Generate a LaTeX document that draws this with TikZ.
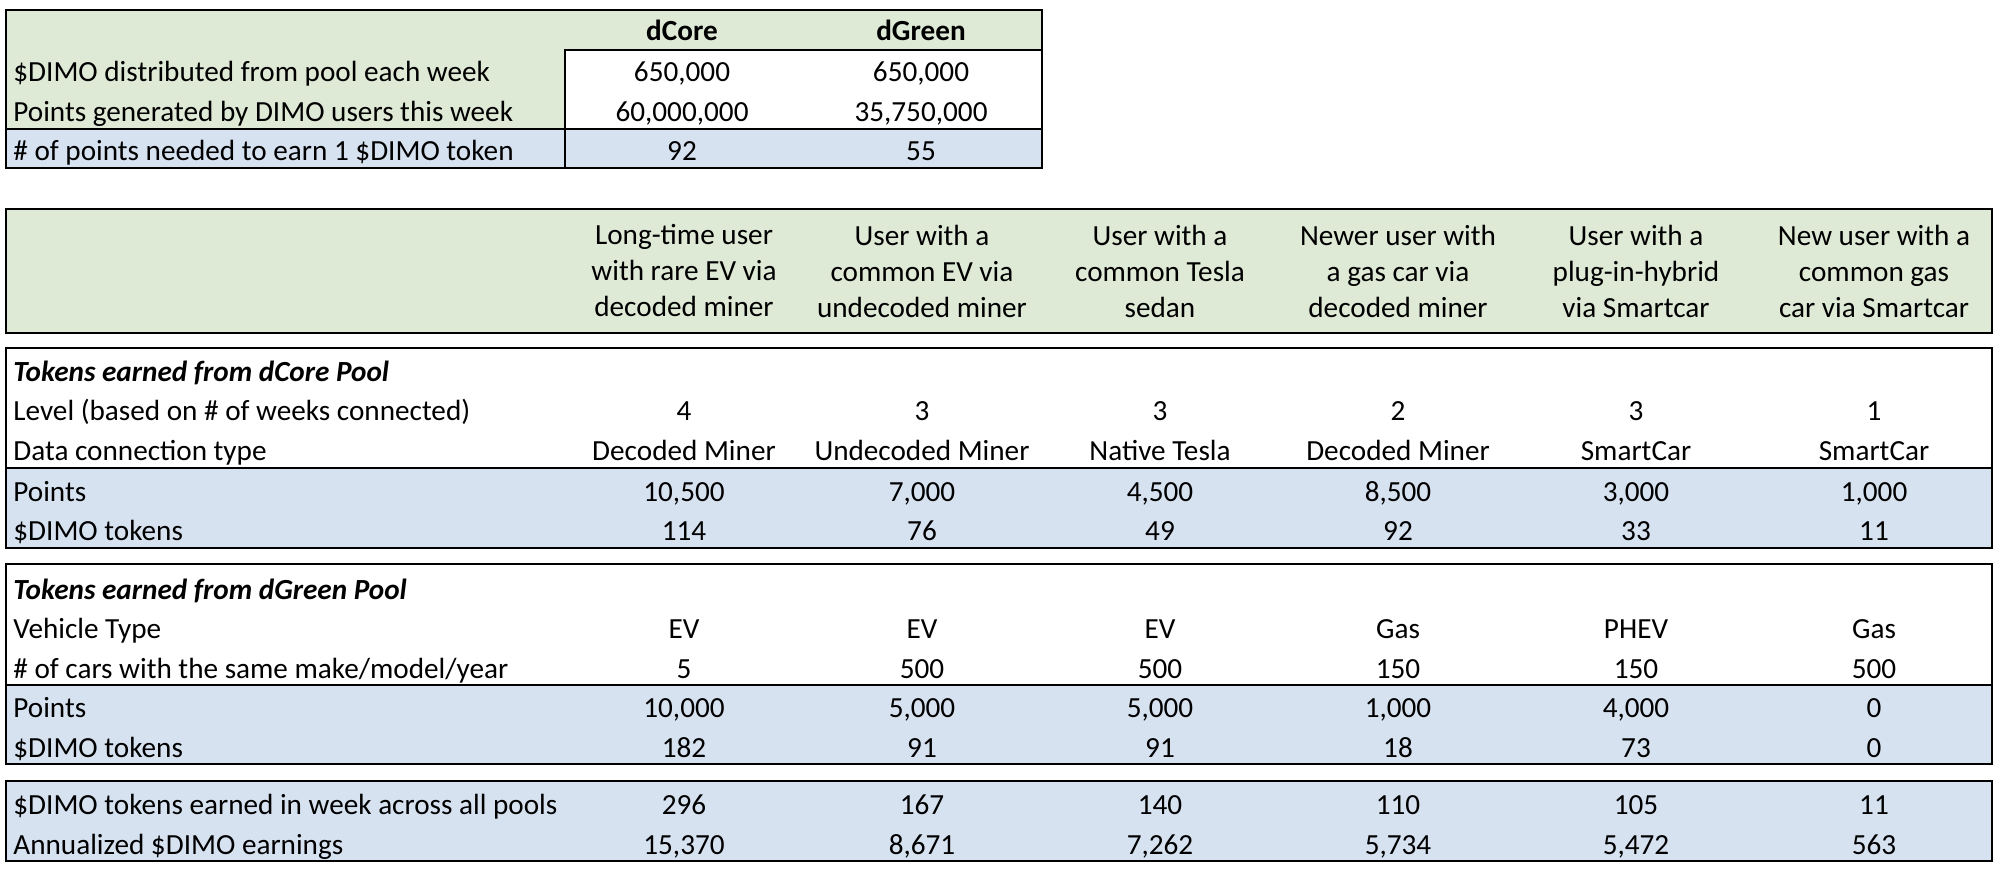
\documentclass[tikz,border=0pt]{standalone}
\usepackage{fontspec}
\setmainfont{Carlito}
\usetikzlibrary{positioning}
\definecolor{hdrgreen}{RGB}{222,233,214}
\definecolor{rowblue}{RGB}{215,226,241}
\tikzset{
  frame/.style={draw=black, line width=1.2pt},
  lbl/.style={anchor=base west, inner sep=0pt},
  val/.style={anchor=base, inner sep=0pt},
  hdr/.style={align=center, inner sep=0pt, anchor=center}
}

\begin{document}
\begin{tikzpicture}[x=0.5pt, y=-0.5pt, font=\fontsize{14.6}{18}\selectfont]
    \useasboundingbox (0,0) rectangle (2000,870);
    % pool summary
    \fill[hdrgreen] (6,10) rectangle (1042,129);
    \fill[white] (565,50) rectangle (1042,129);
    \fill[rowblue] (6,129) rectangle (1042,168);
    \draw[frame] (6,10) rectangle (1042,168);
    \draw[frame] (565,168) |- (1042,50);
    \draw[frame] (6,129) -- (1042,129);
    \node[val] (core) at (682,41) {\bfseries dCore};
    \node[val] (green) at (921,41) {\bfseries dGreen};
    \node[lbl] (dist) at (13,82) {\$DIMO distributed from pool each week};
    \node[lbl] (gen) at (13,122) {Points generated by DIMO users this week};
    \node[lbl] (need) at (13,161) {\# of points needed to earn 1 \$DIMO token};
    \node[val] (dist-1) at (682,82) {650,000};
    \node[val] (dist-2) at (921,82) {650,000};
    \node[val] (gen-1) at (682,122) {60,000,000};
    \node[val] (gen-2) at (921,122) {35,750,000};
    \node[val] (need-1) at (682,161) {92};
    \node[val] (need-2) at (921,161) {55};

    % user profiles
    \fill[hdrgreen] (6,209) rectangle (1992,333);
    \draw[frame] (6,209) rectangle (1992,333);
    \foreach \t [count=\i] in {Long-time user\\with rare EV via\\decoded miner,
        User with a\\common EV via\\undecoded miner,
        User with a\\common Tesla\\sedan,
        Newer user with\\a gas car via\\decoded miner,
        User with a\\plug-in-hybrid\\via Smartcar,
        New user with a\\common gas\\car via Smartcar}
      \node[hdr] (user-\i) at ({684+(\i-1)*238},271) {\t};

    % dCore pool
    \fill[rowblue] (6,468) rectangle (1992,548);
    \draw[frame] (6,348) rectangle (1992,548);
    \draw[frame] (6,468) -- (1992,468);
    \node[lbl] (core-title) at (13,382) {\bfseries\itshape Tokens earned from dCore Pool};
    \node[lbl] (core-lvl) at (13,421) {Level (based on \# of weeks connected)};
    \node[lbl] (core-conn) at (13,461) {Data connection type};
    \node[lbl] (core-pts) at (13,502) {Points};
    \node[lbl] (core-tok) at (13,541) {\$DIMO tokens};
    \foreach \v [count=\i] in {4,3,3,2,3,1}
      \node[val] (core-lvl-\i) at ({684+(\i-1)*238},421) {\v};
    \foreach \v [count=\i] in {Decoded Miner,Undecoded Miner,Native Tesla,Decoded Miner,SmartCar,SmartCar}
      \node[val] (core-conn-\i) at ({684+(\i-1)*238},461) {\v};
    \foreach \v [count=\i] in {{10,500},{7,000},{4,500},{8,500},{3,000},{1,000}}
      \node[val] (core-pts-\i) at ({684+(\i-1)*238},502) {\v};
    \foreach \v [count=\i] in {114,76,49,92,33,11}
      \node[val] (core-tok-\i) at ({684+(\i-1)*238},541) {\v};

    % dGreen pool
    \fill[rowblue] (6,685) rectangle (1992,764);
    \draw[frame] (6,564) rectangle (1992,764);
    \draw[frame] (6,685) -- (1992,685);
    \node[lbl] (green-title) at (13,599) {\bfseries\itshape Tokens earned from dGreen Pool};
    \node[lbl] (green-type) at (13,638) {Vehicle Type};
    \node[lbl] (green-cars) at (13,678) {\# of cars with the same make/model/year};
    \node[lbl] (green-pts) at (13,717) {Points};
    \node[lbl] (green-tok) at (13,757) {\$DIMO tokens};
    \foreach \v [count=\i] in {EV,EV,EV,Gas,PHEV,Gas}
      \node[val] (green-type-\i) at ({684+(\i-1)*238},638) {\v};
    \foreach \v [count=\i] in {5,500,500,150,150,500}
      \node[val] (green-cars-\i) at ({684+(\i-1)*238},678) {\v};
    \foreach \v [count=\i] in {{10,000},{5,000},{5,000},{1,000},{4,000},0}
      \node[val] (green-pts-\i) at ({684+(\i-1)*238},717) {\v};
    \foreach \v [count=\i] in {182,91,91,18,73,0}
      \node[val] (green-tok-\i) at ({684+(\i-1)*238},757) {\v};

    % totals
    \fill[rowblue] (6,781) rectangle (1992,861);
    \draw[frame] (6,781) rectangle (1992,861);
    \node[lbl] (week) at (13,814) {\$DIMO tokens earned in week across all pools};
    \node[lbl] (year) at (13,854) {Annualized \$DIMO earnings};
    \foreach \v [count=\i] in {296,167,140,110,105,11}
      \node[val] (week-\i) at ({684+(\i-1)*238},814) {\v};
    \foreach \v [count=\i] in {{15,370},{8,671},{7,262},{5,734},{5,472},563}
      \node[val] (year-\i) at ({684+(\i-1)*238},854) {\v};
\end{tikzpicture}
\end{document}
